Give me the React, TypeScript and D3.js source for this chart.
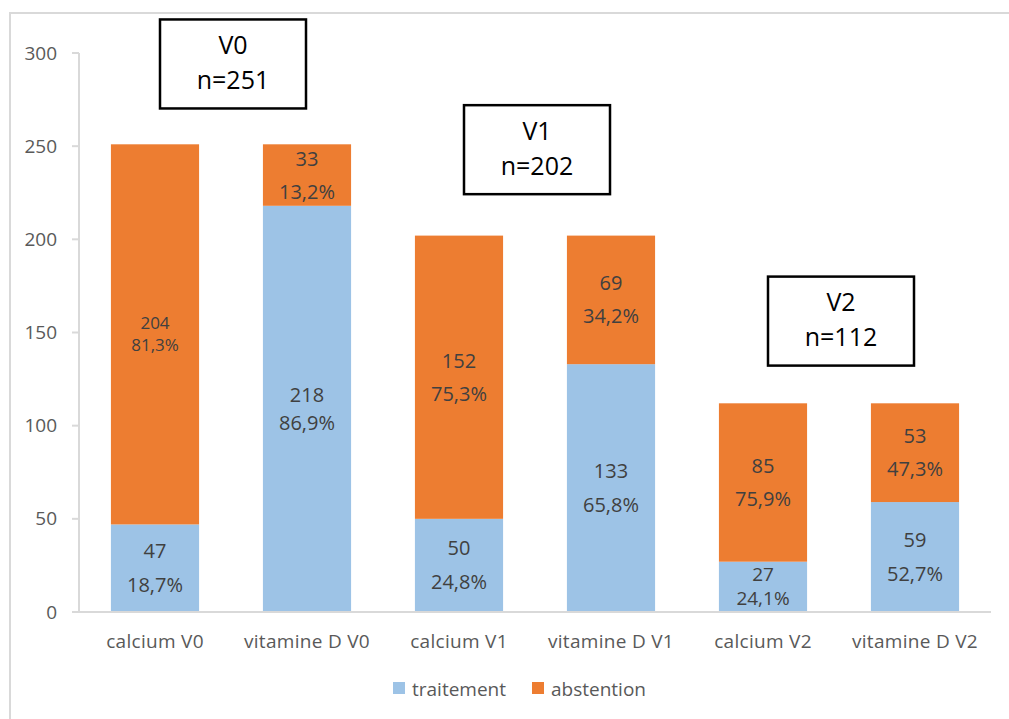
import React from "react";
import * as d3 from "d3";

const categories = ["calcium V0", "vitamine D V0", "calcium V1", "vitamine D V1", "calcium V2", "vitamine D V2"];
const traitement = [47, 218, 50, 133, 27, 59];
const abstention = [204, 33, 152, 69, 85, 53];
const traitementPct = ["18,7%", "86,9%", "24,8%", "65,8%", "24,1%", "52,7%"];
const abstentionPct = ["81,3%", "13,2%", "75,3%", "34,2%", "75,9%", "47,3%"];
const yTicks = [0, 50, 100, 150, 200, 250, 300];
const boxes = [
  { title: "V0", n: "n=251", cat: 0, top: 318 },
  { title: "V1", n: "n=202", cat: 2, top: 272 },
  { title: "V2", n: "n=112", cat: 4, top: 180 },
];
const seriesNames = ["traitement", "abstention"];

const W = 1009, H = 719;
const BLUE = "#9DC3E6", ORANGE = "#ED7D31";
const FONT = "'Open Sans', 'DejaVu Sans', sans-serif";

export default function App() {
  const x = d3.scaleBand().domain(categories).range([79, 991]).paddingInner(0.42).paddingOuter(0.21);
  const y = d3.scaleLinear().domain([0, 300]).range([612, 53]);
  const bw = x.bandwidth();
  const labelFor = (v: number, pct: string, y0: number, y1: number, cx: number, key: string, size: number, gap: number) => {
    const mid = (y(y0) + y(y1)) / 2;
    return (
      <g key={key} fill="#404040" fontSize={size} textAnchor="middle" fontFamily={FONT}>
        <text x={cx} y={mid - gap / 2} dy="0.35em">{v}</text>
        <text x={cx} y={mid + gap / 2} dy="0.35em">{pct}</text>
      </g>
    );
  };
  return (
    <svg width={W} height={H} style={{ position: "absolute", left: 0, top: 0, background: "#fff" }}>
      <rect x={10} y={13} width={W + 20} height={H + 20} fill="none" stroke="#d9d9d9" strokeWidth={2} />
      <line x1={79} x2={79} y1={53} y2={612} stroke="#d9d9d9" strokeWidth={2} />
      {yTicks.map((t) => (
        <g key={t}>
          <line x1={72} x2={79} y1={y(t)} y2={y(t)} stroke="#d9d9d9" strokeWidth={2} />
          <text x={57} y={y(t)} dy="0.35em" textAnchor="end" fontSize={19} fill="#595959" fontFamily={FONT}>{t}</text>
        </g>
      ))}
      {categories.map((c, i) => {
        const x0 = x(c)!;
        const cx = x0 + bw / 2;
        const t = traitement[i], a = abstention[i];
        return (
          <g key={c}>
            <rect x={x0} y={y(t)} width={bw} height={y(0) - y(t)} fill={BLUE} />
            <rect x={x0} y={y(t + a)} width={bw} height={y(t) - y(t + a)} fill={ORANGE} />
            {labelFor(t, traitementPct[i], 0, t, cx, "t", t < 35 ? 19 : 20, t < 35 ? 24 : t > 200 ? 28 : 34)}
            {labelFor(a, abstentionPct[i], t, t + a, cx, "a", a > 200 ? 17 : 20, a > 200 ? 22 : 33)}
            <text x={cx} y={641} dy="0.35em" textAnchor="middle" fontSize={19} letterSpacing={0.3} fill="#595959" fontFamily={FONT}>{c}</text>
          </g>
        );
      })}
      <line x1={72} x2={991} y1={612} y2={612} stroke="#d9d9d9" strokeWidth={2} />
      {boxes.map((b) => {
        const cx = x(categories[b.cat])! + bw + (x.step() - bw) / 2 + 2;
        const bx = cx - 73;
        const by = y(b.top);
        return (
          <g key={b.title}>
            <rect x={bx} y={by} width={146} height={89} fill="#fff" stroke="#000" strokeWidth={2.5} />
            <text x={cx} y={by + 26} dy="0.35em" textAnchor="middle" fontSize={25} fill="#000" fontFamily={FONT}>{b.title}</text>
            <text x={cx} y={by + 61} dy="0.35em" textAnchor="middle" fontSize={25} fill="#000" fontFamily={FONT}>{b.n}</text>
          </g>
        );
      })}
      {seriesNames.map((s, i) => {
        const lx = [393, 532][i];
        return (
          <g key={s}>
            <rect x={lx} y={682} width={12} height={12} fill={i === 0 ? BLUE : ORANGE} />
            <text x={lx + 19} y={689} dy="0.35em" fontSize={19} fill="#595959" fontFamily={FONT}>{s}</text>
          </g>
        );
      })}
    </svg>
  );
}
